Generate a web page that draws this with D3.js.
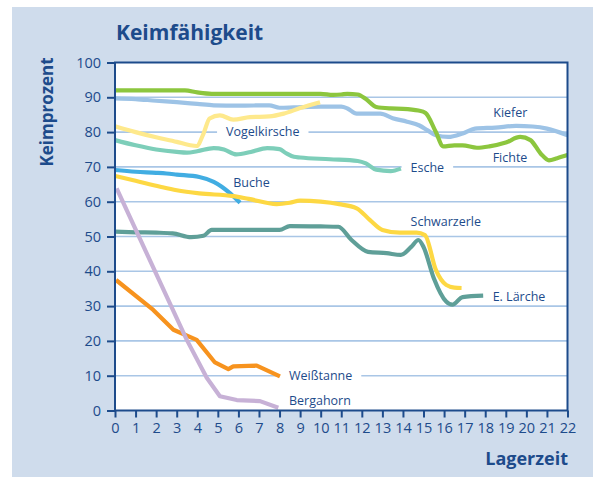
<html>
<head>
<meta charset="utf-8">
<script src="https://d3js.org/d3.v7.min.js"></script>
<style>
body{margin:0;background:#fff;}
text{font-family:"Open Sans",sans-serif;fill:#1d4b8b;}
</style>
</head>
<body>
<svg id="chart" width="593" height="477"></svg>
<script>
// Keimfähigkeit je Baumart über die Lagerzeit (Jahre)
const names = ["Kiefer","Fichte","Vogelkirsche","Esche","Buche","Schwarzerle","E. Lärche","Weißtanne","Bergahorn"];

const kieferX = [0,1,2,3,4,4.8,6,7.5,8,8.7,10,11,11.3,11.75,12.9,13.5,14.2,14.8,15.2,15.6,16.2,16.9,17.5,18.5,19.5,20.3,21,22];
const kieferY = [89.7,89.5,89,88.6,88.1,87.7,87.6,87.7,87.0,87.1,87.3,87.3,86.8,85.3,85.3,84,83,81.9,80.5,79.1,78.6,79.6,81,81.3,81.8,81.6,81,79.1];

const fichteX = [0,1,2,3,3.4,4,4.7,6,8,9,10,10.6,11,11.3,11.8,12.2,12.7,13.4,14,14.75,15.1,15.6,15.96,16.5,16.9,17.6,18.2,19,19.7,20.2,20.7,21.1,21.5,22];
const fichteY = [92,92,92,92,92,91.4,91,91,91,91,91,90.7,90.8,91,90.8,89.5,87.2,86.8,86.7,86.2,85.5,80,75.9,76.2,76.2,75.5,75.9,77,78.6,77.7,73.8,71.9,72.5,73.4];

const vogelX = [0,1,2,3,3.6,3.97,4.3,4.6,5.1,5.75,6.56,7.5,8.2,9,9.97];
const vogelY = [81.7,80,78.5,77.2,76.3,76,79.5,83.9,84.8,83.6,84.3,84.5,85.3,86.9,88.6];

const escheX = [0,1,2,3,3.5,4,4.8,5.3,5.9,6.6,7.4,8,8.3,8.7,9,10.45,11.8,12.2,12.7,13.4,13.9];
const escheY = [77.7,76.2,75,74.3,74.1,74.5,75.4,75,73.6,74.3,75.4,75.1,74,72.9,72.7,72.2,71.7,71,69.2,68.8,69.5];

const bucheX = [0,1,2,2.5,3,4.1,4.8,5.6,6.08];
const bucheY = [69.1,68.6,68.3,68.1,67.8,67.1,65.7,62.4,59.7];

const erleX = [0,1,2.2,3,4.1,5.75,6.5,7.86,8.5,9,10,10.9,11.75,12.4,13,13.85,14.66,15.07,15.6,16.1,16.5,16.85];
const erleY = [67.4,66,64.3,63.3,62.4,61.6,60.8,59.3,59.7,60.3,60,59.3,58.1,54.7,51.9,51.1,51.1,50.4,40.4,36.1,35.3,35.2];

const laercheX = [0,1,2,2.8,3.7,4.3,4.7,6,8,8.5,10,10.86,11.5,12.3,13.2,13.9,14.4,14.75,15,15.5,16.1,16.4,16.9,17.9];
const laercheY = [51.4,51.2,51.1,50.9,49.8,50.2,51.9,51.9,51.9,53,52.9,52.8,49,45.6,45.2,44.7,47,49,47,38,31.3,30.4,32.6,33.0];

const tanneX = [0.05,1.86,2.84,3.97,4.86,5.51,5.75,6.89,8.02];
const tanneY = [37.5,28.9,23.2,20.3,13.8,11.9,12.7,12.9,9.8];

const ahornX = [0.08,3.49,4.46,5.1,5.92,7.05,7.94];
const ahornY = [63.8,20.3,9.4,4.1,3.0,2.7,0.8];

const xTicks = d3.range(0, 23);
const yTicks = d3.range(0, 101, 10);

// label anchors (data units)
const labelX = [18.39,18.36,5.4,14.37,5.75,14.37,18.36,8.46,8.46];
const labelY = [84.2,71.4,78.8,68.6,64.3,53.1,31.6,8.7,1.7];

const colors = ["#9dc3e6","#8cc63e","#fee98c","#7dceb9","#41ade2","#fdd843","#5f9f98","#f7931e","#c7b1d6"];
const xs = [kieferX,fichteX,vogelX,escheX,bucheX,erleX,laercheX,tanneX,ahornX];
const ys = [kieferY,fichteY,vogelY,escheY,bucheY,erleY,laercheY,tanneY,ahornY];

const svg = d3.select("#chart");
const x = d3.scaleLinear().domain([0,22]).range([115,567.5]);
const y = d3.scaleLinear().domain([0,100]).range([410.5,62.5]);

// layer order
const gPanel = svg.append("g");
const gGrid = svg.append("g");
const gBg = svg.append("g");
const gLines = svg.append("g");
const gLab = svg.append("g");
const gAxes = svg.append("g");

gPanel.append("rect").attr("x",12).attr("y",7).attr("width",581).attr("height",470).attr("fill","#cfdcec");
gPanel.append("rect").attr("x",x(0)).attr("y",y(100)).attr("width",x(22)-x(0)).attr("height",y(0)-y(100)).attr("fill","#fff");

gGrid.selectAll("line").data(yTicks.filter(d => d>0 && d<100)).join("line")
  .attr("x1",x(0)).attr("x2",x(22)).attr("y1",d=>y(d)).attr("y2",d=>y(d))
  .attr("stroke","#a9c6e6").attr("stroke-width",1.6);

const labTexts = gLab.selectAll("text").data(names).join("text")
  .attr("x",(d,i)=>x(labelX[i])).attr("y",(d,i)=>y(labelY[i]))
  .attr("font-size",12.5).text(d=>d);
labTexts.each(function(){
  const b = this.getBBox();
  gBg.append("rect").attr("x",b.x-9).attr("y",b.y+1).attr("width",b.width+18).attr("height",b.height-2).attr("fill","#fff");
});

const smooth = d3.line().curve(d3.curveMonotoneX);
const straight = d3.line();
names.forEach((n,i) => {
  const pts = xs[i].map((v,j) => [x(v), y(ys[i][j])]);
  const gen = (n === "Weißtanne" || n === "Bergahorn") ? straight : smooth;
  gLines.append("path").attr("d", gen(pts)).attr("fill","none")
    .attr("stroke",colors[i]).attr("stroke-width",4.2)
    .attr("stroke-linejoin","round").attr("stroke-linecap","butt");
});

const xAxis = d3.axisBottom(x).tickValues(xTicks).tickSize(7).tickPadding(5).tickFormat(d3.format("d"));
const yAxis = d3.axisLeft(y).tickValues(yTicks).tickSize(8).tickPadding(6);
const gx = gAxes.append("g").attr("transform",`translate(0,${y(0)})`).call(xAxis);
const gy = gAxes.append("g").attr("transform",`translate(${x(0)},0)`).call(yAxis);
[gx,gy].forEach(g => {
  g.select(".domain").remove();
  g.selectAll("line").attr("stroke","#1d4b8b").attr("stroke-width",2);
  g.selectAll("text").attr("fill","#1d4b8b").attr("font-size",14.5).attr("font-family","'Open Sans',sans-serif");
});
gAxes.append("rect").attr("x",x(0)).attr("y",y(100)).attr("width",x(22)-x(0)).attr("height",y(0)-y(100))
  .attr("fill","none").attr("stroke","#1d4b8b").attr("stroke-width",2);

gAxes.append("text").attr("x",116).attr("y",40).attr("font-size",21).attr("font-weight","bold").text("Keimfähigkeit");
gAxes.append("text").attr("transform","translate(53,112) rotate(-90)").attr("text-anchor","middle")
  .attr("font-size",17).attr("font-weight","bold").text("Keimprozent");
gAxes.append("text").attr("x",568).attr("y",465).attr("text-anchor","end")
  .attr("font-size",18).attr("font-weight","bold").text("Lagerzeit");
</script>
</body>
</html>
